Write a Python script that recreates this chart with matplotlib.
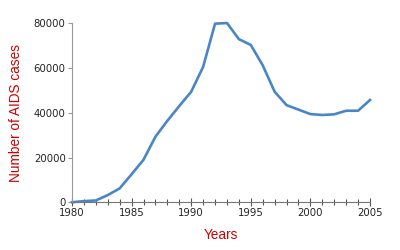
import matplotlib
matplotlib.use("Agg")
import matplotlib.pyplot as plt
from matplotlib.ticker import MultipleLocator

years = list(range(1980, 2006))
cases = [0, 500, 800, 3200, 6200, 12500, 19000, 29300, 36400, 43000,
         49400, 60500, 79800, 80100, 72900, 70300, 61200, 49400, 43400, 41400,
         39400, 39000, 39300, 40900, 40900, 45700]
x_ticks = [1980, 1985, 1990, 1995, 2000, 2005]
y_ticks = [0, 20000, 40000, 60000, 80000]

fig = plt.figure(figsize=(4, 2.5), dpi=100)
ax = fig.add_axes([0.18, 0.191, 0.745, 0.716])
ax.plot(years, cases, color="#4a86c5", lw=1.9, solid_joinstyle="round", clip_on=False)

ax.set_xlim(1980, 2005)
ax.set_ylim(0, 80000)
ax.set_xticks(x_ticks)
ax.set_yticks(y_ticks)
ax.xaxis.set_minor_locator(MultipleLocator(1))

for s in ["top", "right"]:
    ax.spines[s].set_visible(False)
ax.spines["left"].set_color("#999999")
ax.spines["bottom"].set_color("#777777")
ax.spines["left"].set_linewidth(0.8)
ax.spines["bottom"].set_linewidth(0.8)

ax.tick_params(axis="x", which="major", direction="inout", length=6, width=0.8,
               color="#555555", labelsize=7.3, labelcolor="#222222", pad=1.5)
ax.tick_params(axis="x", which="minor", direction="inout", length=4, width=0.8,
               color="#555555")
ax.tick_params(axis="y", which="major", direction="out", length=3, width=0.8,
               color="#999999", labelsize=7.3, labelcolor="#222222", pad=1.5)

ax.set_ylabel("Number of AIDS cases", color="#cc0000", fontsize=9.8,
              family="Liberation Sans")
ax.set_xlabel("Years", color="#cc0000", fontsize=9.8, family="Liberation Sans",
              labelpad=7)
ax.yaxis.set_label_coords(-0.165, 0.5)

fig.savefig("out.png", dpi=100)
